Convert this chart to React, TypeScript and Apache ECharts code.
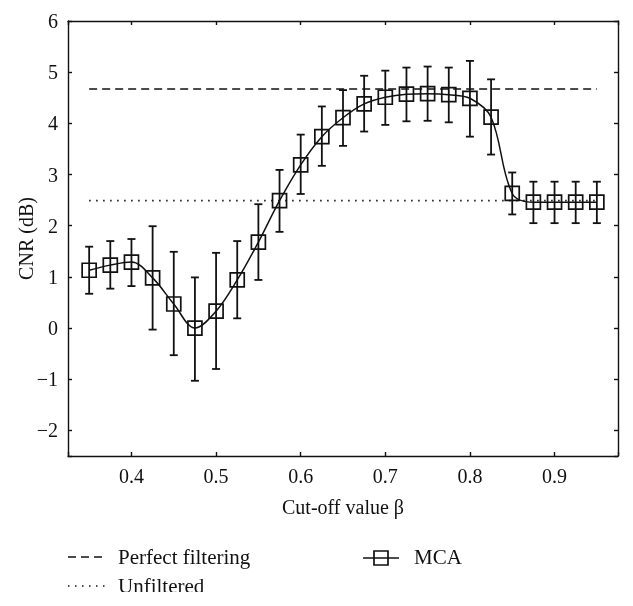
import React, { useEffect, useRef } from "react";
import * as echarts from "echarts";

const cutoff = [0.35, 0.375, 0.4, 0.425, 0.45, 0.475, 0.5, 0.525, 0.55, 0.575, 0.6, 0.625, 0.65, 0.675, 0.7, 0.725, 0.75, 0.775, 0.8, 0.825, 0.85, 0.875, 0.9, 0.925, 0.95];
const mcaCnr = [1.13, 1.23, 1.29, 0.98, 0.47, 0.0, 0.33, 0.94, 1.68, 2.49, 3.19, 3.74, 4.11, 4.38, 4.51, 4.57, 4.58, 4.56, 4.49, 4.12, 2.63, 2.46, 2.46, 2.46, 2.46];
const mcaUpper = [1.59, 1.70, 1.74, 1.99, 1.49, 0.99, 1.47, 1.70, 2.42, 3.09, 3.78, 4.33, 4.65, 4.93, 5.03, 5.09, 5.11, 5.09, 5.22, 4.86, 3.04, 2.86, 2.86, 2.86, 2.86];
const mcaLower = [0.67, 0.77, 0.82, -0.03, -0.53, -1.03, -0.80, 0.19, 0.94, 1.88, 2.62, 3.17, 3.56, 3.84, 3.97, 4.04, 4.05, 4.02, 3.74, 3.39, 2.22, 2.05, 2.05, 2.05, 2.05];
const perfectFiltering = 4.67;
const unfiltered = 2.49;
const xRange = [0.325, 0.975];
const yRange = [-2.5, 6];

const FONT = "'Liberation Serif', 'DejaVu Serif', serif";
const INK = "#111111";

export default function App() {
  const ref = useRef<HTMLDivElement>(null);

  useEffect(() => {
    if (!ref.current) return;
    const chart = echarts.init(ref.current, undefined, { renderer: "svg" });

    const xFmt = (v: number) => (Math.abs(v * 10 - Math.round(v * 10)) < 1e-6 ? v.toFixed(1) : "");
    const yFmt = (v: number) => {
      if (Math.abs(v - Math.round(v)) > 1e-6) return "";
      const r = Math.round(v);
      return r < 0 ? "\u2212" + Math.abs(r) : String(r);
    };

    const axisLine = { show: true, onZero: false, lineStyle: { color: INK, width: 1.4 } };
    const axisTick = { show: true, inside: true, length: 4, lineStyle: { color: INK, width: 1.4 } };
    const labelStyle = { color: INK, fontFamily: FONT, fontSize: 20 };

    const lineData = cutoff.map((x, i) => [x, mcaCnr[i]]);
    const errData = cutoff.map((x, i) => [x, mcaLower[i], mcaUpper[i]]);

    const legendY1 = 557;
    const legendY2 = 586;
    const legendFont = `21px ${FONT}`;

    chart.setOption({
      animation: false,
      grid: { left: 68, top: 21, width: 550, height: 435, containLabel: false, outerBoundsMode: "none" },
      xAxis: [
        {
          type: "value",
          min: xRange[0],
          max: xRange[1],
          minInterval: 0.1,
          maxInterval: 0.1,
          position: "bottom",
          name: "Cut-off value \u03b2",
          nameLocation: "middle",
          nameGap: 41,
          nameMoveOverlap: false,
          nameTextStyle: { ...labelStyle },
          axisLine,
          axisTick,
          axisLabel: { ...labelStyle, margin: 10, formatter: xFmt },
          splitLine: { show: false },
        },
        {
          type: "value",
          min: xRange[0],
          max: xRange[1],
          minInterval: 0.1,
          maxInterval: 0.1,
          position: "top",
          axisLine,
          axisTick,
          axisLabel: { show: false },
          splitLine: { show: false },
        },
      ],
      yAxis: [
        {
          type: "value",
          min: yRange[0],
          max: yRange[1],
          minInterval: 1,
          maxInterval: 1,
          splitNumber: 8,
          position: "left",
          name: "CNR (dB)",
          nameLocation: "middle",
          nameGap: 32,
          nameMoveOverlap: false,
          nameTextStyle: { ...labelStyle },
          axisLine,
          axisTick,
          axisLabel: { ...labelStyle, margin: 10, formatter: yFmt },
          splitLine: { show: false },
        },
        {
          type: "value",
          min: yRange[0],
          max: yRange[1],
          minInterval: 1,
          maxInterval: 1,
          splitNumber: 8,
          position: "right",
          axisLine,
          axisTick,
          axisLabel: { show: false },
          splitLine: { show: false },
        },
      ],
      series: [
        {
          name: "Perfect filtering",
          type: "line",
          data: [[cutoff[0], perfectFiltering], [cutoff[cutoff.length - 1], perfectFiltering]],
          symbol: "none",
          lineStyle: { color: INK, width: 1.5, type: [8, 5] },
          silent: true,
        },
        {
          name: "Unfiltered",
          type: "line",
          data: [[cutoff[0], unfiltered], [cutoff[cutoff.length - 1], unfiltered]],
          symbol: "none",
          lineStyle: { color: INK, width: 1.7, type: [1.5, 5.5] },
          silent: true,
        },
        {
          name: "MCA error",
          type: "custom",
          data: errData,
          encode: { x: 0, y: [1, 2] },
          renderItem: (params: any, api: any) => {
            const x = api.value(0);
            const lo = api.coord([x, api.value(1)]);
            const hi = api.coord([x, api.value(2)]);
            const w = 4;
            const style = { stroke: INK, lineWidth: 1.8, fill: "none" };
            return {
              type: "group",
              children: [
                { type: "line", shape: { x1: lo[0], y1: lo[1], x2: hi[0], y2: hi[1] }, style },
                { type: "line", shape: { x1: lo[0] - w, y1: lo[1], x2: lo[0] + w, y2: lo[1] }, style },
                { type: "line", shape: { x1: hi[0] - w, y1: hi[1], x2: hi[0] + w, y2: hi[1] }, style },
              ],
            };
          },
          silent: true,
          z: 3,
        },
        {
          name: "MCA",
          type: "line",
          data: lineData,
          smooth: 0.35,
          symbol: "rect",
          symbolSize: 14,
          showAllSymbol: true,
          lineStyle: { color: INK, width: 1.5 },
          itemStyle: { color: "rgba(0,0,0,0)", borderColor: INK, borderWidth: 1.7 },
          silent: true,
          z: 4,
        },
      ],
      graphic: [
        { type: "line", shape: { x1: 68, y1: legendY1, x2: 106, y2: legendY1 }, style: { stroke: INK, lineWidth: 1.5, lineDash: [8, 5] } },
        { type: "text", x: 118, y: legendY1, style: { text: "Perfect filtering", fill: INK, font: legendFont, verticalAlign: "middle", align: "left" } },
        { type: "line", shape: { x1: 68, y1: legendY2, x2: 106, y2: legendY2 }, style: { stroke: INK, lineWidth: 1.7, lineDash: [1.5, 5.5] } },
        { type: "text", x: 118, y: legendY2, style: { text: "Unfiltered", fill: INK, font: legendFont, verticalAlign: "middle", align: "left" } },
        { type: "line", shape: { x1: 363, y1: legendY1 + 1, x2: 399, y2: legendY1 + 1 }, style: { stroke: INK, lineWidth: 1.5 } },
        { type: "rect", shape: { x: 374, y: legendY1 - 6, width: 14, height: 14 }, style: { fill: "none", stroke: INK, lineWidth: 1.7 } },
        { type: "text", x: 414, y: legendY1, style: { text: "MCA", fill: INK, font: legendFont, verticalAlign: "middle", align: "left" } },
        { type: "rect", shape: { x: 0, y: 592, width: 633, height: 14 }, style: { fill: "#ffffff" }, z: 100 },
      ],
    });

    return () => chart.dispose();
  }, []);

  return <div ref={ref} style={{ position: "fixed", left: 0, top: 0, width: 633, height: 606 }} />;
}
